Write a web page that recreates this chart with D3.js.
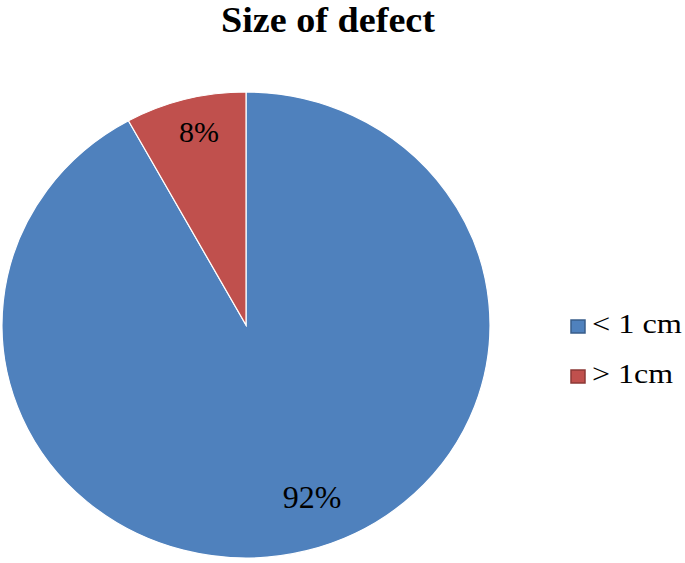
<!DOCTYPE html>
<html><head><meta charset="utf-8">
<script src="https://cdn.jsdelivr.net/npm/d3@7"></script>
<style>body{margin:0;background:#fff}</style>
</head><body>
<svg id="c" width="685" height="563"></svg>
<script>
const categories = ["< 1 cm", "> 1cm"];
const values = [92, 8];
const labels = ["92%", "8%"];
const colors = ["#4F81BD", "#C0504D"];
const strokes = ["#385D8A", "#8C3836"];

const svg = d3.select("#c");
const cx = 246, cy = 325, rx = 244, ry = 233;
const serif = "Liberation Serif, Times New Roman, serif";

svg.append("text").attr("x", 328).attr("y", 32).attr("text-anchor", "middle")
  .attr("font-family", serif).attr("font-weight", "bold")
  .attr("font-size", 35).attr("fill", "#000")
  .attr("textLength", 214).attr("lengthAdjust", "spacingAndGlyphs")
  .text("Size of defect");

const pie = d3.pie().sort(null).value(d => d);
const arcs = pie(values);
const arc = d3.arc().innerRadius(0).outerRadius(ry);
const g = svg.append("g").attr("transform", `translate(${cx},${cy}) scale(${rx/ry},1)`);
g.selectAll("path").data(arcs).enter().append("path")
  .attr("d", arc).attr("fill", (d, i) => colors[i])
  .attr("stroke", "#fff").attr("stroke-width", 1.2).attr("vector-effect", "non-scaling-stroke");

// label anchor points relative to pie centre (layout only)
const labelOffset = [[66, 172], [-47, -193]];
const labelSize = [32, 30];
const lbl = svg.append("g").attr("transform", `translate(${cx},${cy})`);
lbl.selectAll("text").data(arcs).enter().append("text")
  .attr("x", (d, i) => labelOffset[i][0])
  .attr("y", (d, i) => labelOffset[i][1])
  .attr("dy", "0.33em").attr("text-anchor", "middle")
  .attr("font-family", serif).attr("font-size", (d, i) => labelSize[i]).attr("fill", "#000")
  .text((d, i) => labels[i]);

const leg = svg.append("g");
const legW = [90, 81];
categories.forEach((c, i) => {
  const base = 333 + i * 50;
  leg.append("rect").attr("x", 571).attr("y", base - 13).attr("width", 14).attr("height", 13)
    .attr("fill", colors[i]).attr("stroke", strokes[i]).attr("stroke-width", 1.5);
  leg.append("text").attr("x", 592).attr("y", base)
    .attr("font-family", serif).attr("font-size", 28).attr("fill", "#000")
    .attr("textLength", legW[i]).attr("lengthAdjust", "spacingAndGlyphs").text(c);
});
</script>
</body></html>
